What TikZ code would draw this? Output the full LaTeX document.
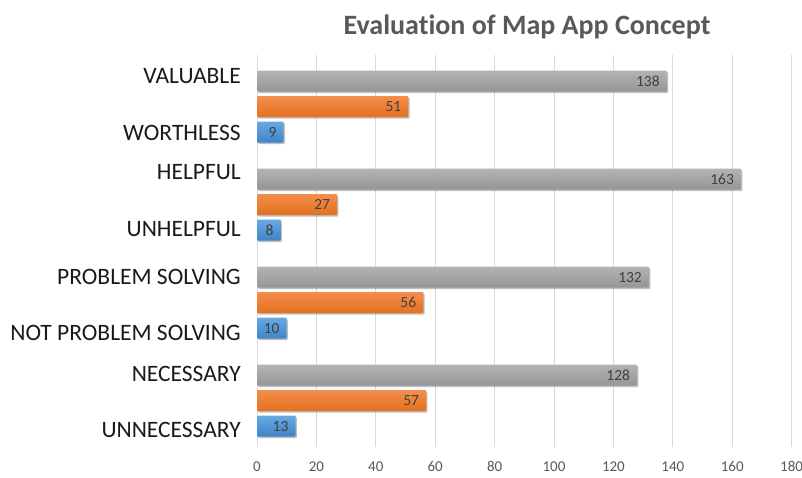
\documentclass[tikz,border=0pt]{standalone}
\usepackage{fontspec}
\setmainfont{Carlito}[Ligatures=NoCommon]
\usetikzlibrary{shadows}
\definecolor{gridc}{HTML}{D9D9D9}
\definecolor{titlec}{HTML}{595959}
\definecolor{tickc}{HTML}{595959}
\definecolor{valc}{HTML}{404040}
\definecolor{labc}{HTML}{1A1A1A}
\definecolor{greyT}{HTML}{B4B4B4}
\definecolor{greyB}{HTML}{959595}
\definecolor{orT}{HTML}{F48E4C}
\definecolor{orB}{HTML}{E2701F}
\definecolor{blT}{HTML}{6AA9E0}
\definecolor{blB}{HTML}{3E84C8}
\newcommand\mkbar[5]{% name, ycenter, value, topcolor, bottomcolor
  \path[barshape, top color=#4, bottom color=#5]
    (257,#2-10.5) rectangle ({257+2.97*#3},#2+10.5);
  \node[vlab] (#1) at ({257+2.97*#3-7},#2+5) {#3};
}
\begin{document}
\begin{tikzpicture}[x=1pt,y=-1pt,
  barshape/.style={rounded corners=1pt,
    drop shadow={shadow xshift=1.2pt, shadow yshift=-1.5pt, opacity=0.25, fill=black}},
  vlab/.style={anchor=base east, inner sep=0pt, text=valc, font=\fontsize{15.5}{15.5}\selectfont},
  clab/.style={anchor=base east, inner sep=0pt, text=labc, font=\fontsize{23.5}{23.5}\selectfont},
  tlab/.style={anchor=base, inner sep=0pt, text=tickc, font=\fontsize{15}{15}\selectfont},
  gridline/.style={draw=gridc, line width=1pt}
]
\useasboundingbox (0,0) rectangle (802,477);
\fill[white] (0,0) rectangle (802,477);
% title
\node[anchor=base, inner sep=0pt, text=titlec, font=\bfseries\fontsize{28}{28}\selectfont] (title) at (527,34) {Evaluation of Map App Concept};
% grid
\foreach \v [count=\i] in {0,20,...,180} {
  \draw[gridline] ({257+2.97*\v},55) -- ({257+2.97*\v},447);
  \node[tlab] (tick\i) at ({257+2.97*\v},471.5) {\v};
}
% bars
\mkbar{v1}{81}{138}{greyT}{greyB}
\mkbar{v2}{106.5}{51}{orT}{orB}
\mkbar{v3}{132}{9}{blT}{blB}
\mkbar{h1}{179}{163}{greyT}{greyB}
\mkbar{h2}{204.5}{27}{orT}{orB}
\mkbar{h3}{230}{8}{blT}{blB}
\mkbar{p1}{277}{132}{greyT}{greyB}
\mkbar{p2}{302.5}{56}{orT}{orB}
\mkbar{p3}{328}{10}{blT}{blB}
\mkbar{n1}{375}{128}{greyT}{greyB}
\mkbar{n2}{400.5}{57}{orT}{orB}
\mkbar{n3}{426}{13}{blT}{blB}
% category labels
\node[clab] (lab1) at (241,83) {VALUABLE};
\node[clab] (lab2) at (241,140) {WORTHLESS};
\node[clab] (lab3) at (241,179) {HELPFUL};
\node[clab] (lab4) at (241,236) {UNHELPFUL};
\node[clab] (lab5) at (241,284) {PROBLEM SOLVING};
\node[clab] (lab6) at (241,340) {NOT PROBLEM SOLVING};
\node[clab] (lab7) at (241,381) {NECESSARY};
\node[clab] (lab8) at (241,437.5) {UNNECESSARY};
\end{tikzpicture}
\end{document}
